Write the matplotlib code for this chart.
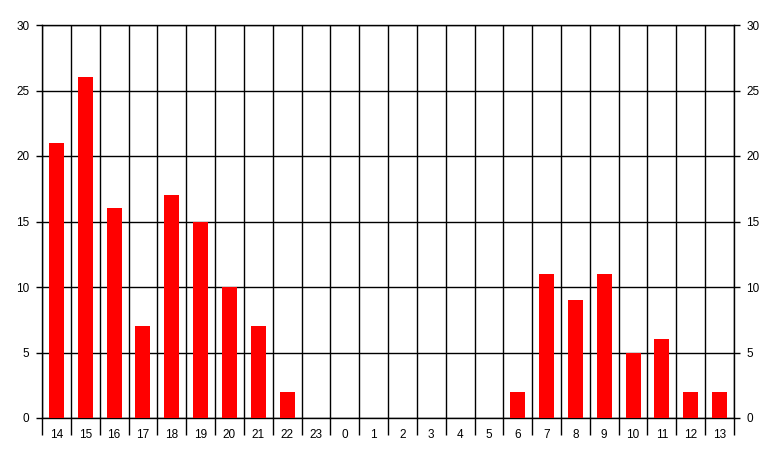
import matplotlib
matplotlib.use("Agg")
import matplotlib.pyplot as plt
import numpy as np

hours = ["14", "15", "16", "17", "18", "19", "20", "21", "22", "23",
         "0", "1", "2", "3", "4", "5", "6", "7", "8", "9",
         "10", "11", "12", "13"]
counts = [21, 26, 16, 7, 17, 15, 10, 7, 2, 0,
          0, 0, 0, 0, 0, 0, 2, 11, 9, 11,
          5, 6, 2, 2]
yticks = [0, 5, 10, 15, 20, 25, 30]

plt.rcParams['font.family'] = ['Liberation Sans', 'DejaVu Sans']

fig = plt.figure(figsize=(7.77, 4.57), dpi=100)
ax = fig.add_axes([42 / 777, 1 - 418 / 457, 692 / 777, 393 / 457])

x = np.arange(len(hours))
ax.bar(x, counts, width=0.52, color='#ff0000', zorder=3)

ax.set_xlim(-0.5, len(hours) - 0.5)
ax.set_ylim(0, 30)

# labels at category centres, tick marks / grid at the boundaries
ax.set_xticks(x)
ax.set_xticklabels(hours, fontsize=8.5)
ax.set_xticks(np.arange(len(hours) + 1) - 0.5, minor=True)
ax.tick_params(axis='x', which='major', length=0, pad=8)
ax.tick_params(axis='x', which='minor', length=12, width=1, color='black')
ax.grid(True, axis='x', which='minor', color='black', linewidth=1, zorder=1)

ax.set_yticks(yticks)
ax.tick_params(axis='y', labelsize=8.5, length=4, width=1,
               left=True, right=True, labelleft=True, labelright=True, pad=5)
ax.grid(True, axis='y', which='major', color='black', linewidth=1, zorder=1)

for s in ax.spines.values():
    s.set_color('black')
    s.set_linewidth(1)

fig.savefig('out.png', dpi=100)
